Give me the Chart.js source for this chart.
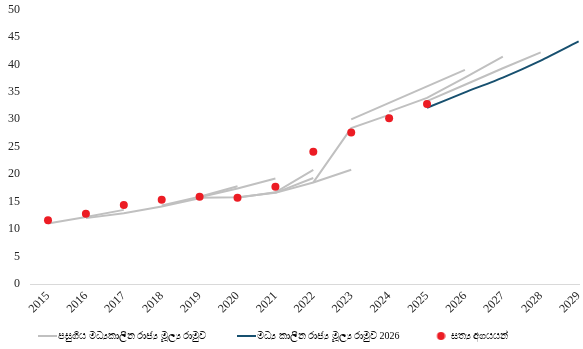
<!DOCTYPE html>
<html>
<head>
<meta charset="utf-8">
<script src="https://cdn.jsdelivr.net/npm/chart.js@4.4.1/dist/chart.umd.min.js"></script>
<style>
  html, body { margin: 0; padding: 0; background: #ffffff; }
  #wrap { width: 583px; height: 349px; }
</style>
</head>
<body>
<div id="wrap"><canvas id="c" width="583" height="349"></canvas></div>
<script>
// Years on the horizontal axis
const years = [2015, 2016, 2017, 2018, 2019, 2020, 2021, 2022, 2023, 2024, 2025, 2026, 2027, 2028, 2029];
const yTicks = [0, 5, 10, 15, 20, 25, 30, 35, 40, 45, 50];

// Legend labels
const labelPast = 'පසුගිය මධ්‍යකාලීන රාජ්‍ය මූල්‍ය රාමුව';
const labelCurrent = 'මධ්‍ය කාලීන රාජ්‍ය මූල්‍ය රාමුව 2026';
const labelActual = 'සත්‍ය අගයයන්';

// Actual values (2015–2025)
const actual = [11.6, 12.8, 14.4, 15.35, 15.9, 15.7, 17.7, 24.1, 27.6, 30.2, 32.8, null, null, null, null];

// Current medium-term fiscal framework 2026 (2025–2029)
const mtff2026 = [null, null, null, null, null, null, null, null, null, null, 32.1, 34.9, 37.6, 40.7, 44.2];

// Earlier medium-term fiscal frameworks, one projection path each
const pastA = [11.0, 12.2, 13.5, null, null, null, null, null, null, null, null, null, null, null, null];
const pastB = [null, 12.0, 12.9, 14.1, 15.6, null, null, null, null, null, null, null, null, null, null];
const pastC = [null, null, null, 14.3, 15.9, 17.8, null, null, null, null, null, null, null, null, null];
const pastD = [null, null, null, null, 15.8, 17.4, 19.2, null, null, null, null, null, null, null, null];
const pastE = [null, null, null, null, 15.7, 15.8, 16.6, 19.3, null, null, null, null, null, null, null];
const pastF = [null, null, null, null, null, 15.7, 16.7, 20.8, null, null, null, null, null, null, null];
const pastG = [null, null, null, null, null, null, 16.6, 18.5, 20.8, null, null, null, null, null, null];
const pastH = [null, null, null, null, null, null, null, 18.5, 28.4, 30.8, null, null, null, null, null];
const pastI = [null, null, null, null, null, null, null, null, 30.0, 33.0, 36.0, 39.0, null, null, null];
const pastJ = [null, null, null, null, null, null, null, null, null, 31.4, 33.9, 37.6, 41.4, null, null];
const pastK = [null, null, null, null, null, null, null, null, null, null, 33.3, 36.3, 39.3, 42.2, null];

const pastSeries = [pastA, pastB, pastC, pastD, pastE, pastF, pastG, pastH, pastI, pastJ, pastK];

const GRAY = '#c0c0c0';
const BLUE = '#17506f';
const RED = '#ec1c24';

function toPoints(values) {
  return years.map((yr, i) => ({ x: yr, y: values[i] })).filter(p => p.y !== null);
}

// Legend symbols drawn on small canvases (symbol offset to the right of its slot)
function lineSymbol(color) {
  const cv = document.createElement('canvas');
  cv.width = 30; cv.height = 2;
  const g = cv.getContext('2d');
  g.fillStyle = color;
  g.fillRect(10, 0, 19, 2);
  return cv;
}
function dotSymbol(color) {
  const cv = document.createElement('canvas');
  cv.width = 20; cv.height = 10;
  const g = cv.getContext('2d');
  g.fillStyle = color;
  g.beginPath();
  g.arc(15.5, 5, 4, 0, Math.PI * 2);
  g.fill();
  return cv;
}

// Let the rotated year labels run below the (compact) x-axis box
const labelRoom = {
  id: 'labelRoom',
  afterLayout(chart) { chart.scales.x.bottom = chart.height; }
};

const datasets = [];
pastSeries.forEach((s) => {
  datasets.push({
    type: 'line', label: labelPast, data: toPoints(s),
    borderColor: GRAY, backgroundColor: GRAY, borderWidth: 2, pointRadius: 0, tension: 0, order: 3
  });
});
datasets.push({
  type: 'line', label: labelCurrent, data: toPoints(mtff2026),
  borderColor: BLUE, backgroundColor: BLUE, borderWidth: 2, pointRadius: 0, tension: 0.2, order: 2
});
datasets.push({
  type: 'scatter', label: labelActual, data: toPoints(actual), showLine: false,
  pointRadius: 4, pointHoverRadius: 4, pointBackgroundColor: RED, pointBorderColor: RED, borderWidth: 0, order: 1
});

const serif = "'Liberation Serif', 'Times New Roman', serif";

new Chart(document.getElementById('c'), {
  data: { datasets },
  plugins: [labelRoom],
  options: {
    responsive: false,
    animation: false,
    devicePixelRatio: 1,
    layout: { padding: { left: 7, right: 0, top: 9.5, bottom: -2 } },
    scales: {
      x: {
        type: 'linear', min: 2014.525, max: 2029.01,
        afterBuildTicks: (scale) => { scale.ticks = years.map(v => ({ value: v })); },
        afterFit: (scale) => { scale.paddingLeft = 0; scale.paddingRight = 0; scale.height = 21; },
        grid: { display: false, drawTicks: false },
        border: { display: true, color: '#d9d9d9', width: 1 },
        ticks: { autoSkip: false, maxRotation: 45, minRotation: 45, padding: 5, color: '#262626',
          font: { family: serif, size: 12 }, callback: (v) => String(v) }
      },
      y: {
        min: 0, max: 50,
        afterBuildTicks: (scale) => { scale.ticks = yTicks.map(v => ({ value: v })); },
        afterFit: (scale) => { scale.width = 23; scale.paddingTop = 0; scale.paddingBottom = 0; },
        grid: { display: false, drawTicks: false },
        border: { display: false },
        ticks: { padding: 10, color: '#262626', font: { family: serif, size: 12 } }
      }
    },
    plugins: {
      tooltip: { enabled: false },
      legend: {
        position: 'bottom',
        align: 'start',
        labels: {
          usePointStyle: true, pointStyleWidth: 20, padding: 26, color: '#262626',
          font: { family: serif, size: 10 },
          generateLabels: (chart) => {
            const n = pastSeries.length;
            return [
              { text: labelPast, pointStyle: lineSymbol(GRAY), fillStyle: GRAY, strokeStyle: GRAY, lineWidth: 0, hidden: false, datasetIndex: 0 },
              { text: labelCurrent, pointStyle: lineSymbol(BLUE), fillStyle: BLUE, strokeStyle: BLUE, lineWidth: 0, hidden: false, datasetIndex: n },
              { text: labelActual, pointStyle: dotSymbol(RED), fillStyle: RED, strokeStyle: RED, lineWidth: 0, hidden: false, datasetIndex: n + 1 }
            ];
          }
        }
      }
    }
  }
});
</script>
</body>
</html>
